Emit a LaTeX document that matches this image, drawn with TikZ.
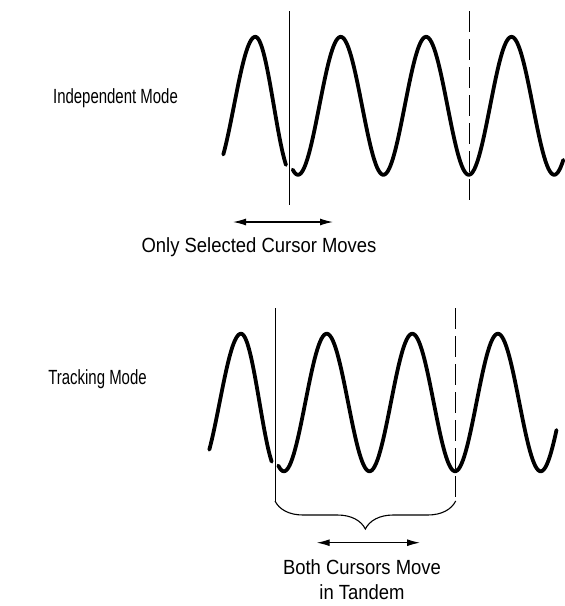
\documentclass[tikz,border=0pt]{standalone}
\usepackage{fontspec}
\setmainfont{Liberation Sans}
\newfontfamily\labelfont{Liberation Sans}[FakeStretch=0.73]
\newfontfamily\captfont{Liberation Sans}[FakeStretch=0.9]
\usetikzlibrary{arrows.meta,decorations.pathreplacing}
\begin{document}
\begin{tikzpicture}[x=1pt,y=-1pt,
  wave/.style={line width=3.8pt,line cap=round,line join=round},
  cursorline/.style={line width=0.9pt},
  cursordash/.style={line width=0.9pt,dash pattern=on 21pt off 7pt},
  movearrow/.style={line width=1.2pt,{Latex[length=13pt,width=7pt]}-{Latex[length=13pt,width=7pt]}},
  label/.style={font=\labelfont\fontsize{20.5pt}{24pt}\selectfont,inner sep=0pt},
  caption/.style={font=\captfont\fontsize{20.5pt}{25pt}\selectfont,inner sep=0pt},
  bracestyle/.style={line width=1.1pt,decorate,decoration={brace,mirror,amplitude=28pt}}
]
\useasboundingbox (0,0) rectangle (565,606);

% ---------- Independent mode ----------
\node[label] (indep) at (115.5,98) {Independent Mode};
\draw[wave] plot[domain=223.3:286,samples=60]
  (\x,{105.8-69*cos(deg(2*pi*(\x-255.3)/(\x<255.3 ? 85.4 : 74.2)))});
\draw[wave] plot[domain=292.7:563.3,samples=200]
  (\x,{105.8-69*cos(deg(2*pi*(\x-340.7)/85.4))});
\coordinate (c1t) at (289,11);
\coordinate (c1b) at (289,204.5);
\coordinate (c2t) at (469.3,11);
\coordinate (c2b) at (469.3,202);
\draw[cursorline] (c1t) -- (c1b);
\draw[cursordash] (c2t) -- (c2b);
\coordinate (a1l) at (233,222);
\coordinate (a1r) at (333,222);
\draw[movearrow] (a1l) -- (a1r);
\node[caption] (only) at (259,247) {Only Selected Cursor Moves};

% ---------- Tracking mode ----------
\node[label] (track) at (97.5,379) {Tracking Mode};
\draw[wave] plot[domain=209.3:271.7,samples=60]
  (\x,{402.5-68.8*cos(deg(2*pi*(\x-241)/(\x<241 ? 85.6 : 74)))});
\draw[wave] plot[domain=278.3:556.5,samples=200]
  (\x,{402.5-68.8*cos(deg(2*pi*(\x-326.7)/85.6))});
\coordinate (d1t) at (275,308.3);
\coordinate (d1b) at (275,501);
\coordinate (d2t) at (455.7,308.3);
\coordinate (d2b) at (455.7,501);
\draw[cursorline] (d1t) -- (d1b);
\draw[cursordash] (d2t) -- (d2b);
\draw[bracestyle] (d1b) -- (d2b);
\coordinate (a2l) at (316.7,542.7);
\coordinate (a2r) at (420,542.7);
\draw[movearrow] (a2l) -- (a2r);
\node[caption,align=center] (both) at (362,580) {Both Cursors Move\\in Tandem};
\end{tikzpicture}
\end{document}
